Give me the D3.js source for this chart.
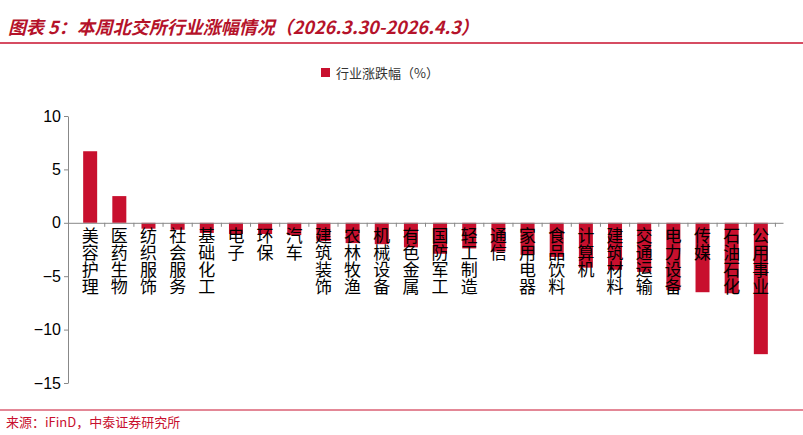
<!DOCTYPE html>
<html><head><meta charset="utf-8">
<script src="https://cdn.jsdelivr.net/npm/d3@7"></script>
<style>body{margin:0;background:#fff;font-family:"Noto Sans CJK SC",sans-serif;}</style>
</head><body><div id="chart"></div>
<script>
var categories = ['美容护理','医药生物','纺织服饰','社会服务','基础化工','电子','环保','汽车','建筑装饰','农林牧渔','机械设备','有色金属','国防军工','轻工制造','通信','家用电器','食品饮料','计算机','建筑材料','交通运输','电力设备','传媒','石油石化','公用事业'];
var values = [6.7,2.5,-0.55,-0.65,-0.95,-1.05,-1.05,-1.15,-1.7,-1.9,-2.0,-2.3,-2.9,-2.4,-2.7,-3.0,-3.2,-4.2,-4.4,-4.6,-6.3,-6.5,-6.6,-12.3];
var yTicks = [10,5,0,-5,-10,-15];

var W = 803, H = 435, red = '#c8102e';
var svg = d3.select('#chart').append('svg').attr('width', W).attr('height', H);

// title
svg.append('text').attr('x', 8).attr('y', 34).attr('fill', '#b5122a')
  .attr('font-size', 18).attr('font-weight', 'bold').attr('font-style', 'italic')
  .text('图表 5：本周北交所行业涨幅情况（2026.3.30-2026.4.3）');
svg.append('line').attr('x1', 0).attr('x2', W).attr('y1', 43).attr('y2', 43)
  .attr('stroke', red).attr('stroke-width', 1.5);

// legend
svg.append('rect').attr('x', 321).attr('y', 68).attr('width', 9).attr('height', 9).attr('fill', red);
svg.append('text').attr('x', 336).attr('y', 78).attr('font-size', 13).attr('fill', '#333')
  .text('行业涨跌幅（%）');

var x = d3.scaleBand().domain(categories).range([68, 783]).padding(0.52);
var y = d3.scaleLinear().domain([-15, 10]).range([383, 116]);

svg.append('g').selectAll('rect').data(values).join('rect')
  .attr('x', function (d, i) { return x(categories[i]); })
  .attr('width', x.bandwidth())
  .attr('y', function (d) { return y(Math.max(0, d)); })
  .attr('height', function (d) { return Math.abs(y(d) - y(0)); })
  .attr('fill', red);

// y axis
var ya = svg.append('g').attr('transform', 'translate(68,0)')
  .call(d3.axisLeft(y).tickValues(yTicks).tickSize(4).tickSizeOuter(0));
ya.select('.domain').attr('stroke', '#888');
ya.selectAll('line').attr('stroke', '#888');
ya.selectAll('text').attr('font-size', 16).attr('fill', '#000').attr('font-family', 'Liberation Sans, Arial');

// x axis at zero
var xa = svg.append('g').attr('transform', 'translate(0,' + y(0) + ')')
  .call(d3.axisBottom(x).tickSize(4).tickSizeOuter(0).tickFormat(''));
xa.select('.domain').attr('stroke', '#888');
xa.selectAll('.tick line').attr('stroke', '#888')
  .attr('transform', 'translate(' + (x.step() / 2) + ',0)');

// vertical category labels, one glyph per row
var fs = 17;
svg.append('g').selectAll('g').data(categories).join('g')
  .attr('transform', function (d) { return 'translate(' + (x(d) + x.bandwidth() / 2) + ',' + (y(0) + 4) + ')'; })
  .selectAll('text').data(function (d) { return d.split(''); }).join('text')
  .attr('x', 0)
  .attr('y', function (c, i) { return (i + 1) * fs - 2; })
  .attr('text-anchor', 'middle')
  .attr('font-size', fs).attr('fill', '#000')
  .text(function (c) { return c; });

// source
svg.append('line').attr('x1', 0).attr('x2', W).attr('y1', 410).attr('y2', 410)
  .attr('stroke', red).attr('stroke-width', 1);
svg.append('text').attr('x', 6).attr('y', 427).attr('font-size', 13).attr('fill', red)
  .text('来源：iFinD，中泰证券研究所');
</script></body></html>
